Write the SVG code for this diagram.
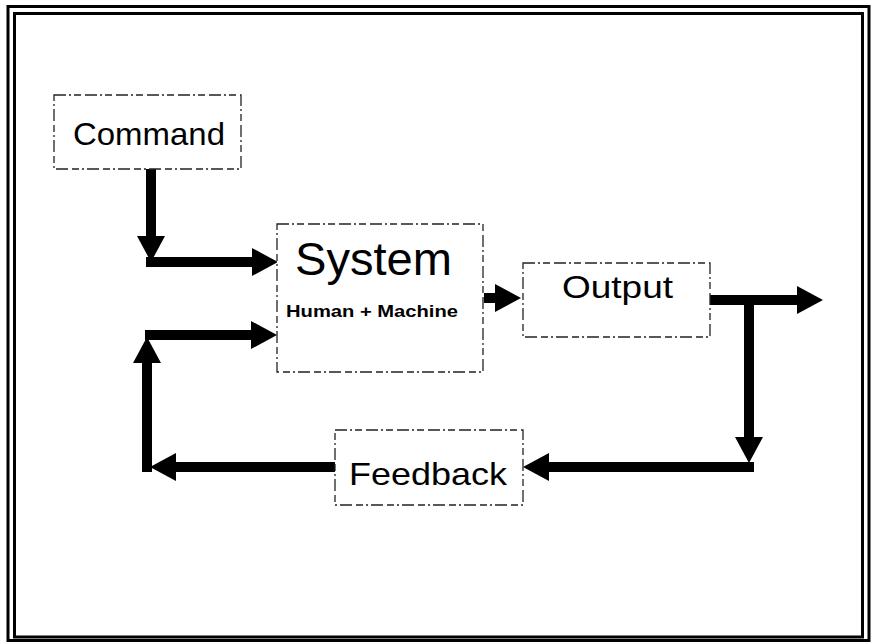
<svg xmlns="http://www.w3.org/2000/svg" width="872" height="642" viewBox="0 0 872 642">
  <defs>
    <marker id="head" markerUnits="userSpaceOnUse" markerWidth="28" markerHeight="28" refX="4" refY="14" orient="auto">
      <path d="M0,0 L26,14 L0,28 Z" fill="#000"/>
    </marker>
    <style>
      .frame { fill: none; stroke: #000; stroke-width: 3; }
      .box { fill: #fff; stroke: #222; stroke-width: 1.3; stroke-dasharray: 12 3 2 3 7 4; }
      .label { font-family: "Liberation Sans", Arial, Helvetica, sans-serif; fill: #000; }
      .conn { fill: none; stroke: #000; stroke-width: 10; marker-end: url(#head); }
    </style>
  </defs>
  <rect width="872" height="642" fill="#fff"/>
  <g id="frame">
    <rect class="frame" x="8" y="6.5" width="861" height="634"/>
    <rect class="frame" x="14.5" y="13.5" width="848" height="623.5"/>
  </g>
  <g id="connectors">
    <path class="conn" d="M151,169 V240"/>
    <path class="conn" d="M146,262 H256"/>
    <path class="conn" d="M484,298 H499"/>
    <path class="conn" d="M710,300 H801"/>
    <path class="conn" d="M749,300 V441"/>
    <path class="conn" d="M754,467 H545"/>
    <path class="conn" d="M335,467 H172"/>
    <path class="conn" d="M147,472 V359"/>
    <path class="conn" d="M145,335 H255"/>
  </g>
  <g id="command">
    <rect class="box" x="54" y="95" width="187" height="74"/>
    <text class="label" x="73" y="145" font-size="32" textLength="152" lengthAdjust="spacingAndGlyphs">Command</text>
  </g>
  <g id="system">
    <rect class="box" x="277" y="224" width="206" height="148"/>
    <text class="label" x="295" y="275" font-size="47" textLength="157" lengthAdjust="spacingAndGlyphs">System</text>
    <text class="label" x="286" y="317" font-size="17" font-weight="bold" textLength="172" lengthAdjust="spacingAndGlyphs">Human + Machine</text>
  </g>
  <g id="output">
    <rect class="box" x="523" y="263" width="187" height="74"/>
    <text class="label" x="562" y="298" font-size="32" textLength="111" lengthAdjust="spacingAndGlyphs">Output</text>
  </g>
  <g id="feedback">
    <rect class="box" x="335" y="430" width="188" height="75"/>
    <text class="label" x="349" y="485" font-size="32" textLength="158" lengthAdjust="spacingAndGlyphs">Feedback</text>
  </g>
</svg>
